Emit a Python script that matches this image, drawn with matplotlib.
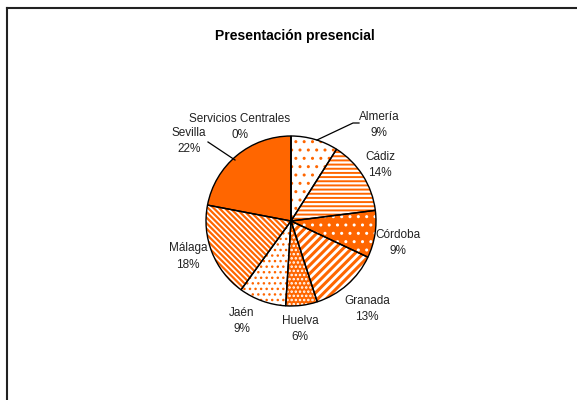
import matplotlib
matplotlib.use("Agg")
import matplotlib.pyplot as plt
from matplotlib.lines import Line2D

plt.rcParams['font.family'] = ['Liberation Sans Narrow', 'Liberation Sans', 'DejaVu Sans']

# datos
provincias = ['Almería', 'Cádiz', 'Córdoba', 'Granada', 'Huelva', 'Jaén',
              'Málaga', 'Sevilla', 'Servicios Centrales']
porcentajes = [9, 14, 9, 13, 6, 9, 18, 22, 0]

naranja = '#FF6600'
barra = chr(92)
fondos = ['white', 'white', naranja, 'white', naranja, 'white', 'white', naranja, naranja]
tramas = ['..', '----', '..', '////', '....', '...', barra * 6, '', '']
color_trama = [naranja, naranja, 'white', naranja, 'white', naranja, naranja, naranja, naranja]
grosor_trama = [1.0, 1.4, 1.0, 2.2, 1.2, 1.0, 1.6, 1.0, 1.0]

W, H = 577, 400
fig = plt.figure(figsize=(W / 100, H / 100), dpi=100)
ax = fig.add_axes([0, 0, 1, 1])

centro = (291, H - 221)
radio = 85

# relleno con tramas
cuñas, _ = ax.pie(porcentajes, startangle=90, counterclock=False,
                  center=centro, radius=radio, frame=True)
for w, f, t, c, g in zip(cuñas, fondos, tramas, color_trama, grosor_trama):
    w.set_facecolor(f)
    w.set_edgecolor(c)
    w.set_linewidth(0)
    w.set_hatch(t)
    if hasattr(w, 'set_hatch_linewidth'):
        w.set_hatch_linewidth(g)

# contornos
ax.pie(porcentajes, startangle=90, counterclock=False,
       center=centro, radius=radio, frame=True,
       wedgeprops=dict(facecolor='none', edgecolor='black', linewidth=1.0))
ax.set_xlim(0, W)
ax.set_ylim(0, H)
ax.set_aspect('equal')
ax.axis('off')

# etiquetas (posición relativa al centro, en píxeles)
pos_etiquetas = [(88, 96), (89, 56), (107, -22), (76, -88), (9, -108),
                 (-49, -100), (-103, -35), (-102, 80), (-51, 94)]
for nombre, v, (dx, dy) in zip(provincias, porcentajes, pos_etiquetas):
    ax.text(centro[0] + dx, centro[1] + dy + 8.5, nombre, ha='center', va='center',
            fontsize=8.5, color='#222222')
    ax.text(centro[0] + dx, centro[1] + dy - 8.5, f'{v}%', ha='center', va='center',
            fontsize=8.5, color='#222222')

# líneas guía
ax.plot([centro[0] + 26, centro[0] + 62, centro[0] + 68],
        [centro[1] + 81, centro[1] + 98, centro[1] + 98], color='black', lw=0.9)
ax.plot([centro[0] - 83, centro[0] - 56],
        [centro[1] + 79, centro[1] + 61], color='black', lw=0.9)

fig.text(295 / W, 1 - 36 / H, 'Presentación presencial', ha='center', va='center',
         fontsize=10, fontweight='bold')

# marco
fig.add_artist(Line2D([7 / W, 7 / W], [-0.1, 1 - 8 / H], color='#222222', lw=1.5,
                      transform=fig.transFigure))
fig.add_artist(Line2D([7 / W, 1.1], [1 - 8 / H, 1 - 8 / H], color='#222222', lw=1.5,
                      transform=fig.transFigure))

fig.savefig('out.png', dpi=100, facecolor='white')
